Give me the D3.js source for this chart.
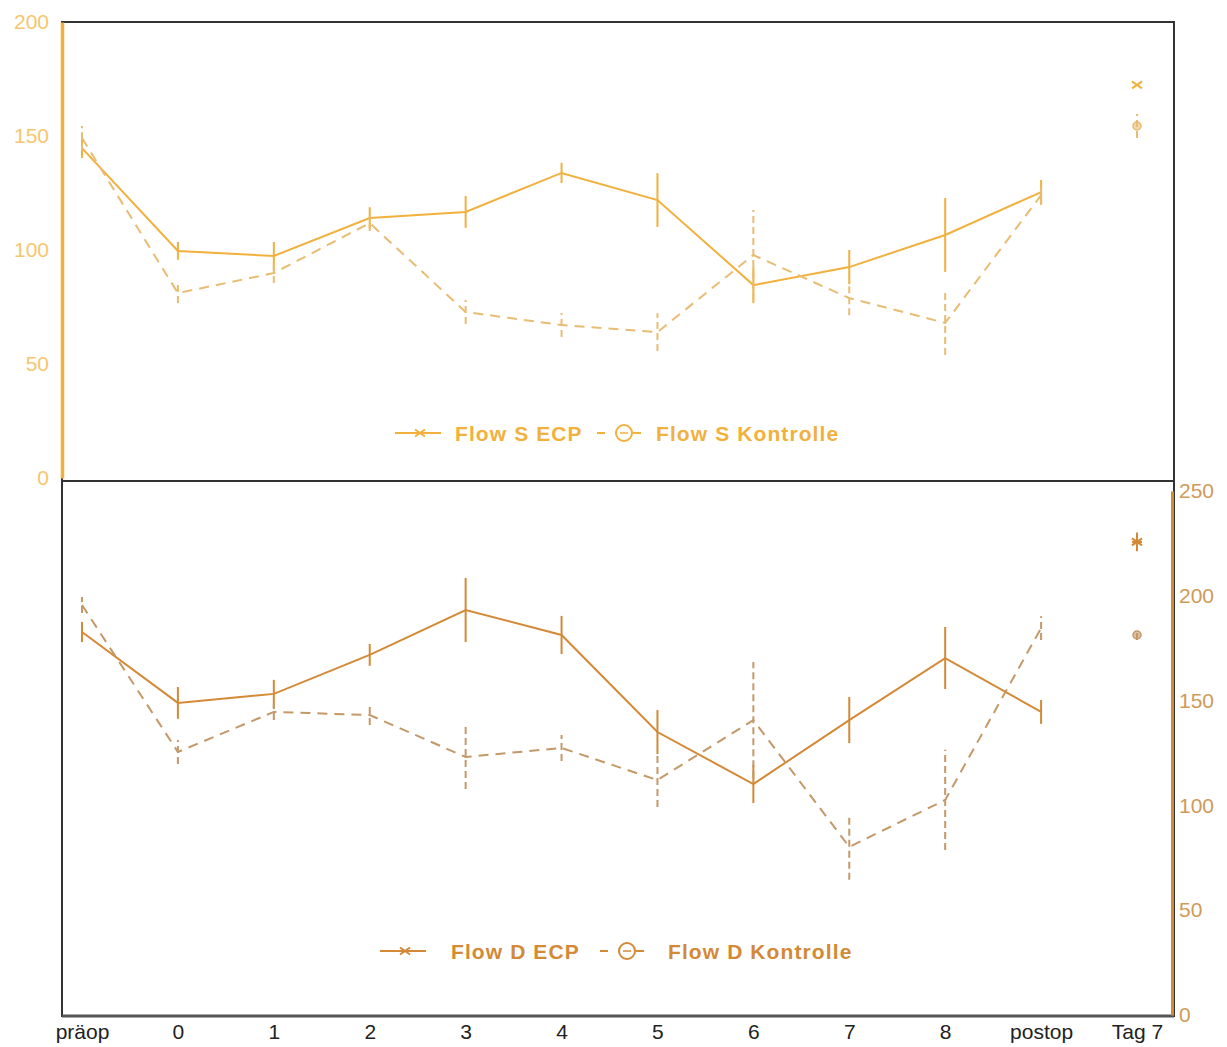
<!DOCTYPE html>
<html>
<head>
<meta charset="utf-8">
<script src="https://cdn.jsdelivr.net/npm/d3@7"></script>
<style>
  html, body { margin: 0; padding: 0; background: #fff; }
  svg { display: block; font-family: "Liberation Sans", Arial, sans-serif; }
</style>
</head>
<body>
<svg id="chart" width="1227" height="1047"></svg>
<script>
// Time points (last one is the follow-up on day 7, drawn unconnected)
const categories = ["präop", "0", "1", "2", "3", "4", "5", "6", "7", "8", "postop", "Tag 7"];

// Systolic flow (upper panel)
const flowS_ECP       = [144.7, 99.6, 97.4, 114.0, 116.7, 133.8, 121.9, 84.6, 92.5, 106.6, 125.4, 172.4];
const flowS_ECP_err   = [4.4, 3.9, 6.1, 4.8, 7.0, 4.4, 11.8, 7.9, 7.5, 16.2, 5.3, 0];
const flowS_Ktr       = [149.1, 81.1, 89.9, 111.8, 72.8, 67.1, 64.0, 97.8, 78.9, 68.0, 124.1, 154.4];
const flowS_Ktr_err   = [5.3, 4.4, 4.4, 3.5, 5.3, 5.3, 8.3, 19.7, 7.5, 14.0, 4.4, 5.3];

// Diastolic flow (lower panel)
const flowD_ECP       = [182.7, 148.9, 153.2, 171.8, 193.2, 181.3, 135.0, 110.2, 140.7, 170.3, 144.6, 225.7];
const flowD_ECP_err   = [4.8, 7.6, 6.7, 5.2, 15.3, 9.1, 10.5, 9.1, 11.0, 14.8, 5.7, 4.5];
const flowD_Ktr       = [195.6, 125.5, 144.6, 143.1, 123.1, 127.4, 112.1, 140.7, 80.2, 102.6, 184.6, 181.3];
const flowD_Ktr_err   = [3.8, 5.7, 3.8, 4.8, 15.3, 6.2, 12.9, 27.7, 15.7, 23.9, 5.7, 2.4];

const topTicks = [0, 50, 100, 150, 200];
const bottomTicks = [0, 50, 100, 150, 200, 250];

const colS = "#f2b03c";
const colSDash = "#e8bc72";
const colSLabel = "#f6c66e";
const colD = "#d38936";
const colDDash = "#c49868";
const colDLabel = "#cf9a58";

const svg = d3.select("#chart");

const x = d3.scalePoint().domain(categories).range([82, 1137]);
const yTop = d3.scaleLinear().domain([0, 200]).range([478, 22]);
const yBot = d3.scaleLinear().domain([0, 250]).range([1015, 491]);

// Panel frames
svg.append("rect").attr("x", 62).attr("y", 22).attr("width", 1112).attr("height", 459)
  .attr("fill", "none").attr("stroke", "#333").attr("stroke-width", 2);
svg.append("rect").attr("x", 62).attr("y", 481).attr("width", 1112).attr("height", 535)
  .attr("fill", "none").attr("stroke", "#333").attr("stroke-width", 2);
svg.append("line").attr("x1", 62).attr("x2", 1174).attr("y1", 1016).attr("y2", 1016)
  .attr("stroke", "#555").attr("stroke-width", 3);

// Left axis (upper panel)
const axL = svg.append("g").attr("transform", "translate(62,0)")
  .call(d3.axisLeft(yTop).tickValues(topTicks).tickSize(0).tickPadding(13));
axL.select(".domain").attr("stroke", colS).attr("stroke-width", 3.5);
axL.selectAll("text").attr("fill", colSLabel).attr("font-size", 21);

// Right axis (lower panel)
const axR = svg.append("g").attr("transform", "translate(1172,0)")
  .call(d3.axisRight(yBot).tickValues(bottomTicks).tickSize(0).tickPadding(7));
axR.select(".domain").attr("stroke", colD).attr("stroke-width", 3);
axR.selectAll("text").attr("fill", colDLabel).attr("font-size", 21);

// Category axis
const axX = svg.append("g").attr("transform", "translate(0,1016)")
  .call(d3.axisBottom(x).tickSize(0).tickPadding(8));
axX.select(".domain").remove();
axX.selectAll("text").attr("fill", "#222").attr("font-size", 21);

function drawSeries(values, errs, y, color, dashed, marker) {
  const g = svg.append("g");
  const pts = categories.map((c, i) => ({ c, v: values[i], e: errs[i] }));
  const linePts = pts.slice(0, pts.length - 1);
  const line = d3.line().x(d => x(d.c)).y(d => y(d.v));
  g.append("path").datum(linePts).attr("d", line)
    .attr("fill", "none").attr("stroke", color).attr("stroke-width", 2)
    .attr("stroke-dasharray", dashed ? "10,7" : null);
  g.selectAll("line.err").data(pts.filter(d => d.e > 0)).join("line").attr("class", "err")
    .attr("x1", d => x(d.c)).attr("x2", d => x(d.c))
    .attr("y1", d => y(d.v - d.e)).attr("y2", d => y(d.v + d.e))
    .attr("stroke", color).attr("stroke-width", 2)
    .attr("stroke-dasharray", dashed ? "7,4" : null);
  const last = pts[pts.length - 1];
  drawMarker(g, x(last.c), y(last.v), color, marker, 5);
}

function drawMarker(g, cx, cy, color, type, s) {
  if (type === "x") {
    g.append("path")
      .attr("d", `M${cx - s},${cy - s * 0.7}L${cx + s},${cy + s * 0.7}M${cx - s},${cy + s * 0.7}L${cx + s},${cy - s * 0.7}`)
      .attr("stroke", color).attr("stroke-width", 2).attr("fill", "none");
  } else if (type === "star") {
    g.append("path")
      .attr("d", `M${cx - s},${cy - s * 0.7}L${cx + s},${cy + s * 0.7}M${cx - s},${cy + s * 0.7}L${cx + s},${cy - s * 0.7}M${cx - s},${cy}L${cx + s},${cy}`)
      .attr("stroke", color).attr("stroke-width", 2).attr("fill", "none");
  } else {
    g.append("circle").attr("cx", cx).attr("cy", cy).attr("r", s - 1)
      .attr("fill", color).attr("fill-opacity", 0.6).attr("stroke", color).attr("stroke-width", 1.5);
  }
}

drawSeries(flowS_ECP, flowS_ECP_err, yTop, colS, false, "x");
drawSeries(flowS_Ktr, flowS_Ktr_err, yTop, colSDash, true, "o");
drawSeries(flowD_ECP, flowD_ECP_err, yBot, colD, false, "star");
drawSeries(flowD_Ktr, flowD_Ktr_err, yBot, colDDash, true, "o");

// Legends
function legend(xs, yc, color, labels) {
  const g = svg.append("g");
  // solid entry
  g.append("line").attr("x1", xs[0]).attr("x2", xs[0] + 46).attr("y1", yc).attr("y2", yc)
    .attr("stroke", color).attr("stroke-width", 2);
  drawMarker(g, xs[0] + 25, yc, color, "x", 5);
  g.append("text").attr("x", xs[1]).attr("y", yc).attr("dy", "0.36em")
    .attr("fill", color).attr("font-size", 21).attr("letter-spacing", 1.1)
    .attr("font-weight", "bold").text(labels[0]);
  // dashed entry
  g.append("line").attr("x1", xs[2]).attr("x2", xs[2] + 48).attr("y1", yc).attr("y2", yc)
    .attr("stroke", color).attr("stroke-width", 2).attr("stroke-dasharray", "8,10");
  g.append("circle").attr("cx", xs[2] + 27).attr("cy", yc).attr("r", 8)
    .attr("fill", "#fff").attr("stroke", color).attr("stroke-width", 2);
  g.append("line").attr("x1", xs[2] + 23).attr("x2", xs[2] + 31).attr("y1", yc).attr("y2", yc)
    .attr("stroke", color).attr("stroke-width", 1.5);
  g.append("text").attr("x", xs[3]).attr("y", yc).attr("dy", "0.36em")
    .attr("fill", color).attr("font-size", 21).attr("letter-spacing", 1.1)
    .attr("font-weight", "bold").text(labels[1]);
}
legend([395, 455, 597, 656], 433, colS, ["Flow S ECP", "Flow S Kontrolle"]);
legend([380, 451, 600, 668], 951, colD, ["Flow D ECP", "Flow D Kontrolle"]);
</script>
</body>
</html>
